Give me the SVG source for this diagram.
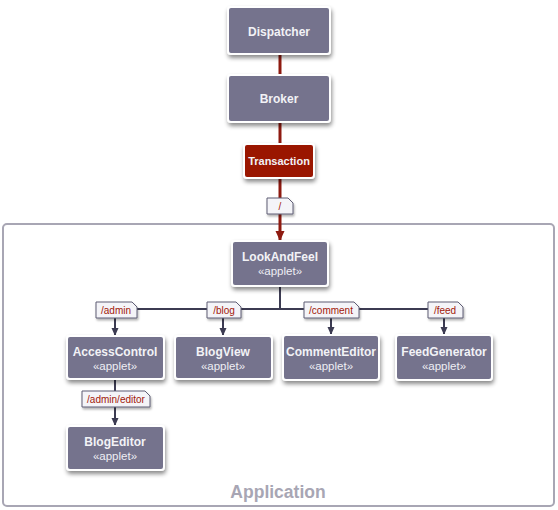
<svg xmlns="http://www.w3.org/2000/svg" width="558" height="510" viewBox="0 0 558 510">
<style>
.box{fill:#74738d;stroke:#ffffff;stroke-width:2;filter:url(#sh)}
.tx{fill:#9a1204;stroke:#ffffff;stroke-width:2;filter:url(#sh)}
.nm{font-family:"Liberation Sans",Arial,sans-serif;font-weight:bold;font-size:12px;fill:#f2f2f6;text-anchor:middle}
.st{font-family:"Liberation Sans",Arial,sans-serif;font-size:11.5px;fill:#eeeef4;text-anchor:middle}
.note{fill:#f4f4f8;stroke:#5e5d74;stroke-width:1;filter:url(#sh2)}
.lbl{font-family:"Liberation Sans",Arial,sans-serif;font-size:10px;fill:#a2180a;text-anchor:middle}
.red{stroke:#8e1a10;stroke-width:3;fill:none}
.dk{stroke:#3c3b52;stroke-width:2;fill:none}
</style>
<defs>
<filter id="sh" x="-20%" y="-20%" width="140%" height="160%">
<feDropShadow dx="1" dy="3" stdDeviation="2" flood-color="#000" flood-opacity="0.45"/>
</filter>
<filter id="sh2" x="-20%" y="-30%" width="140%" height="180%">
<feDropShadow dx="1" dy="2" stdDeviation="1" flood-color="#000" flood-opacity="0.3"/>
</filter>
<marker id="ad" markerWidth="8" markerHeight="8" refX="7" refY="4" orient="auto" markerUnits="userSpaceOnUse">
<path d="M0,0.5 L8,4 L0,7.5 Z" fill="#3c3b52"/>
</marker>
<marker id="ar" markerWidth="10" markerHeight="10" refX="9" refY="5" orient="auto" markerUnits="userSpaceOnUse">
<path d="M0,0.5 L10,5 L0,9.5 Z" fill="#8e1a10"/>
</marker>
</defs>

<g id="application">
<rect x="3" y="224" width="551" height="282" rx="4" fill="#ffffff" stroke="#a8a6b4" stroke-width="2"/>
<text x="278" y="498" font-family="'Liberation Sans',Arial,sans-serif" font-weight="bold" font-size="17.5" fill="#a8a6b4" text-anchor="middle">Application</text>
</g>

<g id="connectors">
<line class="red" x1="280" y1="54" x2="280" y2="75"/>
<line class="red" x1="280" y1="122" x2="280" y2="144"/>
<line class="red" x1="280" y1="178" x2="280" y2="240" marker-end="url(#ar)"/>
<polyline class="dk" points="280,286 280,309"/>
<line class="dk" x1="115" y1="309" x2="444" y2="309"/>
<line class="dk" x1="115" y1="309" x2="115" y2="335" marker-end="url(#ad)"/>
<line class="dk" x1="223" y1="309" x2="223" y2="335" marker-end="url(#ad)"/>
<line class="dk" x1="331" y1="309" x2="331" y2="334" marker-end="url(#ad)"/>
<line class="dk" x1="444" y1="309" x2="444" y2="334" marker-end="url(#ad)"/>
<line class="dk" x1="115" y1="379" x2="115" y2="425" marker-end="url(#ad)"/>
<g id="label-root">
<path class="note" d="M267,198 H288 L293,203 V214 H267 Z"/>
<text class="lbl" x="280" y="210">/</text>
</g>
<g id="label-admin">
<path class="note" d="M96,302 H132 L137,307 V318 H96 Z"/>
<text class="lbl" x="116" y="314">/admin</text>
</g>
<g id="label-blog">
<path class="note" d="M207,302 H236 L241,307 V318 H207 Z"/>
<text class="lbl" x="224" y="314">/blog</text>
</g>
<g id="label-comment">
<path class="note" d="M304,302 H354 L359,307 V318 H304 Z"/>
<text class="lbl" x="331" y="314">/comment</text>
</g>
<g id="label-feed">
<path class="note" d="M428,302 H458 L463,307 V318 H428 Z"/>
<text class="lbl" x="445" y="314">/feed</text>
</g>
<g id="label-admin-editor">
<path class="note" d="M82,391 H145 L150,396 V407 H82 Z"/>
<text class="lbl" x="116" y="403">/admin/editor</text>
</g>
</g>

<g id="dispatcher">
<rect class="box" x="228" y="7" width="102" height="47" rx="3"/>
<text class="nm" x="279" y="36">Dispatcher</text>
</g>
<g id="broker">
<rect class="box" x="228" y="75" width="102" height="47" rx="3"/>
<text class="nm" x="279" y="103">Broker</text>
</g>
<g id="transaction">
<rect class="tx" x="244" y="144" width="70" height="34" rx="3"/>
<text class="nm" x="279" y="165" style="font-size:11px">Transaction</text>
</g>
<g id="lookandfeel">
<rect class="box" x="232" y="241" width="96" height="45" rx="3"/>
<text class="nm" x="280" y="261">LookAndFeel</text>
<text class="st" x="280" y="275">«applet»</text>
</g>
<g id="accesscontrol">
<rect class="box" x="67" y="336" width="97" height="43" rx="3"/>
<text class="nm" x="115" y="356">AccessControl</text>
<text class="st" x="115" y="370">«applet»</text>
</g>
<g id="blogview">
<rect class="box" x="175" y="336" width="97" height="43" rx="3"/>
<text class="nm" x="223" y="356">BlogView</text>
<text class="st" x="223" y="370">«applet»</text>
</g>
<g id="commenteditor">
<rect class="box" x="283" y="335" width="96" height="45" rx="3"/>
<text class="nm" x="331" y="356">CommentEditor</text>
<text class="st" x="331" y="370">«applet»</text>
</g>
<g id="feedgenerator">
<rect class="box" x="396" y="335" width="96" height="45" rx="3"/>
<text class="nm" x="444" y="356">FeedGenerator</text>
<text class="st" x="444" y="370">«applet»</text>
</g>
<g id="blogeditor">
<rect class="box" x="67" y="426" width="97" height="44" rx="3"/>
<text class="nm" x="115" y="446">BlogEditor</text>
<text class="st" x="115" y="460">«applet»</text>
</g>
</svg>
